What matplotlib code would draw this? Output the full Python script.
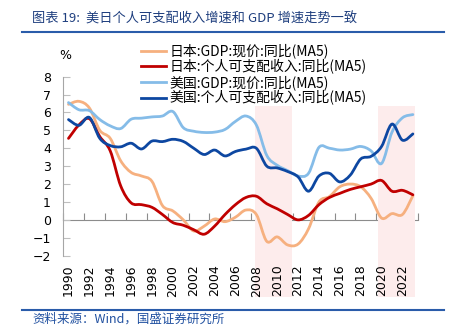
import numpy as np
import matplotlib
matplotlib.use("Agg")
import matplotlib.pyplot as plt
from matplotlib.path import Path
from matplotlib.patches import PathPatch
from matplotlib.lines import Line2D

plt.rcParams['font.family'] = ['Noto Sans CJK SC', 'DejaVu Sans']

# ---- data (annual, MA5, %) ----
years = list(range(1990, 2024))

jp_gdp = [6.45, 6.62, 6.25, 5.0, 4.55, 3.3, 2.65, 2.45, 2.15, 0.8,
          0.5, 0.0, -0.62, -0.35, 0.05, -0.1, 0.15, 0.55, 0.3, -1.2,
          -0.95, -1.4, -1.35, -0.5, 1.0, 1.3, 1.85, 2.0, 1.85, 1.2,
          0.1, 0.35, 0.3, 1.35]
jp_income = [4.55, 5.3, 5.65, 4.65, 3.85, 1.9, 0.95, 0.85, 0.7, 0.3,
             -0.15, -0.3, -0.55, -0.8, -0.35, 0.3, 0.85, 1.25, 1.32, 0.9,
             0.62, 0.3, 0.0, 0.25, 0.85, 1.25, 1.48, 1.7, 1.85, 2.0,
             2.2, 1.6, 1.65, 1.4]
us_gdp = [6.55, 6.15, 6.1, 5.6, 5.25, 5.1, 5.62, 5.68, 5.75, 5.8,
          6.05, 5.15, 4.95, 4.88, 4.9, 5.05, 5.5, 5.8, 5.3, 3.6,
          3.05, 2.75, 2.45, 2.6, 4.05, 4.0, 3.9, 3.95, 4.1, 3.85,
          3.15, 4.9, 5.7, 5.88]
us_income = [5.6, 5.28, 5.72, 4.55, 4.15, 4.08, 4.28, 3.96, 4.4, 4.37,
             4.5, 4.38, 4.0, 3.65, 3.9, 3.57, 3.82, 3.95, 4.0, 3.0,
             2.9, 2.7, 2.4, 1.6, 2.45, 2.6, 2.12, 2.5, 3.4, 3.55,
             4.1, 5.35, 4.45, 4.8]

labels = ["日本:GDP:现价:同比(MA5)", "日本:个人可支配收入:同比(MA5)",
          "美国:GDP:现价:同比(MA5)", "美国:个人可支配收入:同比(MA5)"]
colors = ["#F6B07F", "#C00000", "#85BCE8", "#0D47A1"]
shade_spans = [(2007.9, 2011.4), (2019.7, 2023.2)]


def smooth_path(x, y):
    # Excel-style smoothed line: cubic Bezier through every point
    pts = np.column_stack([np.asarray(x, float), np.asarray(y, float)])
    n = len(pts)
    verts, codes = [pts[0]], [Path.MOVETO]
    for i in range(n - 1):
        p0 = pts[i - 1] if i > 0 else pts[i]
        p1, p2 = pts[i], pts[i + 1]
        p3 = pts[i + 2] if i + 2 < n else pts[i + 1]
        verts += [p1 + (p2 - p0) / 6, p2 - (p3 - p1) / 6, p2]
        codes += [Path.CURVE4] * 3
    return Path(verts, codes)


fig = plt.figure(figsize=(4.52, 3.36), dpi=100)
ax = fig.add_axes([0.140, 0.239, 0.785, 0.533])
ax.set_xlim(1989.5, 2023.5)
ax.set_ylim(-2, 8)

# shaded periods
for a, b in shade_spans:
    ax.axvspan(a, b, ymin=-0.229, ymax=0.836, color="#FDECEC", lw=0,
               zorder=0.5, clip_on=False)

for series, c in zip([jp_gdp, jp_income, us_gdp, us_income], colors):
    ax.add_patch(PathPatch(smooth_path(years, series), fill=False,
                           edgecolor=c, lw=2.0, zorder=3,
                           capstyle='round', joinstyle='round'))

# axes styling
for s in ["top", "right", "bottom"]:
    ax.spines[s].set_visible(False)
ax.spines["left"].set_color("#A6A6A6")
ax.set_yticks(range(-2, 9))
ax.tick_params(axis="y", direction="in", length=5, color="#BFBFBF",
               pad=9, labelsize=9)
ax.set_xticks(years[::2])
ax.set_xticklabels([str(y) for y in years[::2]], rotation=90)
ax.tick_params(axis="x", length=0, pad=6.5, labelsize=9)
for lab in ax.get_xticklabels() + ax.get_yticklabels():
    lab.set_family("DejaVu Sans")

# zero line with tick marks between year pairs
sec = ax.secondary_xaxis(0.2)
sec.set_alignment("bottom")
sec.set_xticks(np.arange(1989.5, 2024.5, 2))
sec.tick_params(axis="x", direction="in", length=5, color="#8C8C8C",
                labelbottom=False, labeltop=False)
sec.spines["bottom"].set_color("#8C8C8C")

ax.text(0.005, 1.12, "%", transform=ax.transAxes, ha="center", va="center",
        fontsize=9, family="DejaVu Sans")

handles = [Line2D([], [], color=c, lw=2.0) for c in colors]
fig.legend(handles, labels, loc="upper left", bbox_to_anchor=(0.313, 0.870),
           frameon=False, fontsize=10, handlelength=1.75, handletextpad=0.3,
           labelspacing=0.05, borderpad=0, borderaxespad=0)

# header / footer
fig.text(0.071, 0.945, "图表 19:  美日个人可支配收入增速和 GDP 增速走势一致",
         fontsize=9.5, color="#1F3F7F", ha="left", va="center")
fig.add_artist(Line2D([0.049, 0.982], [0.906, 0.906], color="#2A5CAA",
                      lw=1.5, transform=fig.transFigure))
fig.add_artist(Line2D([0.049, 0.982], [0.077, 0.077], color="#2A5CAA",
                      lw=1.5, transform=fig.transFigure))
fig.text(0.071, 0.050, "资料来源：Wind，国盛证券研究所",
         fontsize=9, color="#2050A0", ha="left", va="center")

fig.savefig("out.png", dpi=100)
